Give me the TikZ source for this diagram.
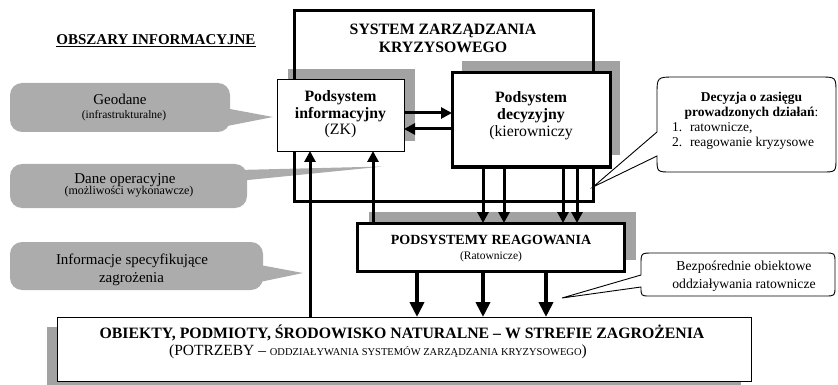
\documentclass[tikz,border=0pt]{standalone}
\usepackage{fontspec}
\setmainfont{Liberation Serif}
\usetikzlibrary{arrows.meta,backgrounds}
\definecolor{shadowgray}{RGB}{162,162,162}
\definecolor{bubblegray}{RGB}{172,172,172}
% underlined heading with a heavier rule
\newcommand\ulinetext[1]{\setbox0\hbox{#1}\rlap{\rule[-2.6pt]{\wd0}{1.3pt}}\box0}

\tikzset{
  txt/.style={anchor=base, inner sep=0pt, outer sep=0pt},
  fr/.style={font=\fontsize{#1}{#1}\selectfont},
  fb/.style={font=\fontsize{#1}{#1}\selectfont\bfseries},
  thinbox/.style={draw, fill=white, line width=0.9pt, inner sep=0pt, outer sep=0pt},
  thickbox/.style={draw, fill=white, line width=3pt, inner sep=0pt, outer sep=0pt},
  sysframe/.style={draw, line width=3pt, inner sep=0pt, outer sep=0pt},
  shadowfill/.style={fill=shadowgray},
  graybubble/.style={fill=bubblegray, rounded corners=12pt, inner sep=0pt, outer sep=0pt},
  wcallout/.style={draw, fill=white, line width=0.9pt, line join=miter},
  flow/.style={line width=3pt, -{Triangle[length=11pt,width=11pt]}},
  bigflow/.style={line width=4pt, -{Triangle[length=15pt,width=14pt]}},
}

\begin{document}
\begin{tikzpicture}[x=1pt,y=-1pt]
\useasboundingbox (0,0) rectangle (838,385);

% main frames and boxes
\node[sysframe, minimum width=299pt, minimum height=190pt] (sys) at (443.5,106) {};
\node[thinbox, minimum width=127pt, minimum height=72pt] (info) at (340.5,115) {};
\node[thickbox, minimum width=158pt, minimum height=94pt] (dec) at (531,120) {};
\node[thickbox, minimum width=267pt, minimum height=48pt] (reac) at (490.5,247) {};
\node[thinbox, minimum width=694pt, minimum height=64pt] (bot) at (404,349) {};

\begin{scope}[on background layer]
  % drop shadows
  \fill[shadowfill] ([shift={(11,-10)}]info.south west) rectangle ([shift={(11,-10)}]info.north east);
  \fill[shadowfill] ([shift={(10,-12)}]dec.south west) rectangle ([shift={(10,-12)}]dec.north east);
  \fill[shadowfill] ([shift={(12,-11)}]reac.south west) rectangle ([shift={(12,-11)}]reac.north east);
  \fill[shadowfill] ([shift={(-10,10)}]bot.south west) rectangle ([shift={(-10,10)}]bot.north east);

  % grey callouts of the information areas
  \node[graybubble, minimum width=220pt, minimum height=49pt] (geo) at (120,107.5) {};
  \coordinate (geotip) at (273,117);
  \fill[bubblegray] ([shift={(-8,0)}]geo.east) -- (geotip) -- ([shift={(-8,19.5)}]geo.east) -- cycle;

  \node[graybubble, minimum width=237pt, minimum height=44pt] (ope) at (128.5,186) {};
  \coordinate (opetip) at (383,166.5);
  \fill[bubblegray] ([shift={(-9,-16)}]ope.east) -- (opetip) -- ([shift={(-9,-5)}]ope.east) -- cycle;

  \node[graybubble, minimum width=253pt, minimum height=48pt] (thr) at (136.5,266) {};
  \coordinate (thrtip) at (303,273);
  \fill[bubblegray] ([shift={(-8,-2)}]thr.east) -- (thrtip) -- ([shift={(-8,17)}]thr.east) -- cycle;
\end{scope}

% white callouts
\coordinate (dectip) at (593,187);
\draw[wcallout] (657,132) -- (dectip) -- (657,156) -- (657,158)
  .. controls (657,172) .. (671,172) -- (822,172)
  .. controls (836,172) .. (836,158) -- (836,93)
  .. controls (836,77) .. (820,77) -- (675,77)
  .. controls (657,77) .. (657,95) -- cycle;
\coordinate (bztip) at (562,298);
\draw[wcallout] (641,275) -- (bztip) -- (641,287)
  .. controls (641,296) .. (650,296) -- (825,296)
  .. controls (835,296) .. (835,286) -- (835,263)
  .. controls (835,253) .. (825,253) -- (653,253)
  .. controls (641,253) .. (641,265) -- cycle;

% texts
\node[txt, fb=15.8] (t1) at (443,35) {SYSTEM ZARZĄDZANIA};
\node[txt, fb=15.8] (t2) at (443,53) {KRYZYSOWEGO};
\node[txt, fb=15] (obs) at (156,44.5) {\ulinetext{OBSZARY INFORMACYJNE}};

\node[txt, fb=15.8] (i1) at (340.5,102) {Podsystem};
\node[txt, fb=15.8] (i2) at (340.5,118.5) {informacyjny};
\node[txt, fr=15.8] (i3) at (340.5,135) {(ZK)};

\node[txt, fb=15.8] (d1) at (531,103) {Podsystem};
\node[txt, fb=15.8] (d2) at (531,120) {decyzyjny};
\node[txt, fr=15.8] (d3) at (531,137) {(kierowniczy};

\node[txt, fb=14] (r1) at (491,244) {PODSYSTEMY REAGOWANIA};
\node[txt, fr=11.5] (r2) at (491,259) {(Ratownicze)};

\node[txt, fb=15.8] (b1) at (402,338) {OBIEKTY, PODMIOTY, ŚRODOWISKO NATURALNE – W STREFIE ZAGROŻENIA};
\node[txt, fr=15.5] (b2) at (378,355.5) {(POTRZEBY – {\fontsize{10.5}{10.5}\selectfont ODDZIAŁYWANIA SYSTEMÓW ZARZĄDZANIA KRYZYSOWEGO})};

\node[txt, fr=15] (g1) at (120,105) {Geodane};
\node[txt, fr=11.5] (g2) at (124,119) {(infrastrukturalne)};
\node[txt, fr=15] (o1) at (125,183) {Dane operacyjne};
\node[txt, fr=12] (o2) at (129,194) {(możliwości wykonawcze)};
\node[txt, fr=15] (z1) at (132,264) {Informacje specyfikujące};
\node[txt, fr=15] (z2) at (131.5,282) {zagrożenia};

\node[txt, fb=13.5] (c1) at (751.5,101.7) {Decyzja o zasięgu};
\node[txt, fb=13.5] (c2) at (751.5,116.7) {prowadzonych działań\mdseries:};
\node[txt, fr=13.5, anchor=base west] (c3) at (672,131.7) {\makebox[18pt][l]{1.}ratownicze,};
\node[txt, fr=13.5, anchor=base west] (c4) at (672,146.7) {\makebox[18pt][l]{2.}reagowanie kryzysowe};

\node[txt, fr=13.7] (e1) at (744,270.5) {Bezpośrednie obiektowe};
\node[txt, fr=13.7] (e2) at (744,288) {oddziaływania ratownicze};

% information flows into the information subsystem
\coordinate (upA) at ([xshift=-30.5]info.south);
\coordinate (upB) at ([xshift=32.5]info.south);
\draw[flow] (upA |- bot.north) -- (upA);
\draw[flow] (upB |- reac.north) -- (upB);

% exchange between information and decision subsystems
\coordinate (hR) at ([yshift=2]info.east);
\coordinate (hL) at ([yshift=-14]info.east);
\draw[flow] (hR) -- (hR -| dec.west);
\draw[flow] (hL -| dec.west) -- (hL);

% decisions passed to the response subsystems
\foreach \s [count=\k] in {-48,-27,32,46}{
  \coordinate (dn\k) at ([xshift=\s]dec.south);
  \draw[flow] (dn\k) -- (dn\k |- reac.north);
}

% direct rescue actions on the threatened zone
\foreach \s [count=\k] in {-73.5,-7.5,55.5}{
  \coordinate (rs\k) at ([xshift=\s]reac.south);
  \draw[bigflow] (rs\k) -- (rs\k |- bot.north);
}
\end{tikzpicture}
\end{document}
